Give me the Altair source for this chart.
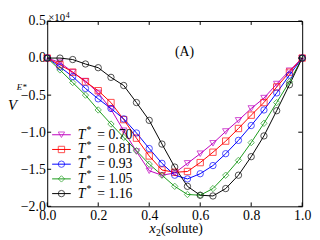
import altair as alt
import pandas as pd

# ---- data (values in units of 10^4) ----
x2 = [0.0, 0.05, 0.10, 0.15, 0.20, 0.25, 0.30, 0.35, 0.40, 0.45, 0.50,
      0.55, 0.60, 0.65, 0.70, 0.75, 0.80, 0.85, 0.90, 0.95, 1.0]
labels = ["0.70", "0.81", "0.93", "1.05", "1.16"]
v_070 = [0, -0.06, -0.19, -0.31, -0.47, -0.69, -0.98, -1.26, -1.52, -1.58, -1.55,
         -1.42, -1.29, -1.15, -0.99, -0.84, -0.68, -0.54, -0.35, -0.17, 0]
v_081 = [0, -0.09, -0.19, -0.32, -0.44, -0.60, -0.83, -1.08, -1.32, -1.51, -1.54,
         -1.53, -1.41, -1.27, -1.12, -0.95, -0.77, -0.60, -0.39, -0.19, 0]
v_093 = [0, -0.12, -0.25, -0.41, -0.55, -0.68, -0.82, -1.01, -1.22, -1.42, -1.58,
         -1.63, -1.56, -1.45, -1.29, -1.11, -0.91, -0.70, -0.47, -0.23, 0]
v_105 = [0, -0.16, -0.33, -0.50, -0.70, -0.89, -1.07, -1.25, -1.43, -1.58, -1.73,
         -1.84, -1.85, -1.76, -1.58, -1.38, -1.14, -0.88, -0.60, -0.32, 0]
v_116 = [0, 0, -0.02, -0.08, -0.13, -0.26, -0.37, -0.60, -0.84, -1.16, -1.47,
         -1.73, -1.85, -1.86, -1.76, -1.58, -1.33, -1.05, -0.71, -0.36, 0]
series = [v_070, v_081, v_093, v_105, v_116]
colors = ["#bf00bf", "#ff0000", "#0000ff", "#1a9a1a", "#000000"]
shapes = ["triangle-down", "square", "circle", "diamond", "circle"]
x_ticks = [0.0, 0.2, 0.4, 0.6, 0.8, 1.0]
y_ticks = [0.5, 0.0, -0.5, -1.0, -1.5, -2.0]

rows = []
for lab, vals in zip(labels, series):
    for xv, yv in zip(x2, vals):
        rows.append({"x": xv, "v": yv, "T": lab})
df = pd.DataFrame(rows)

TOP = 11
W, H = 260, 189
FONT = "Liberation Serif"
XMIN, XMAX, YMIN, YMAX = 0.0, 1.0, -2.0, 0.5
xs = alt.Scale(domain=[XMIN, XMAX], nice=False, zero=False)
ys = alt.Scale(domain=[YMIN, YMAX], nice=False, zero=False)

color = alt.Color("T:N", scale=alt.Scale(domain=labels, range=colors), legend=None)
shape = alt.Shape("T:N", scale=alt.Scale(domain=labels, range=shapes), legend=None)

ax_common = dict(format=".1f", ticks=False, domain=False, grid=False, labelFont=FONT,
                 labelFontSize=14, labelColor="black", title=None, labelOverlap=False,
                 labelFlush=False, labelPadding=2)
X_AX = alt.Axis(values=x_ticks, **ax_common)
Y_AX = alt.Axis(values=y_ticks, **ax_common)


def X(f):
    return alt.X(f, scale=xs, axis=X_AX)


def Y(f):
    return alt.Y(f, scale=ys, axis=Y_AX)


lines = alt.Chart(df).mark_line(strokeWidth=1).encode(x=X("x:Q"), y=Y("v:Q"), color=color)
points = alt.Chart(df).mark_point(filled=False, size=42, strokeWidth=1).encode(
    x=X("x:Q"), y=Y("v:Q"), color=color, shape=shape)

# inward ticks on all four sides
xt = pd.DataFrame({"t": x_ticks})
yt = pd.DataFrame({"t": y_ticks})
TL = 4
tick_layers = [
    alt.Chart(xt).mark_rule(color="black", strokeWidth=1).encode(
        x=X("t:Q"), y=alt.value(H), y2=alt.value(H - TL)),
    alt.Chart(xt).mark_rule(color="black", strokeWidth=1).encode(
        x=X("t:Q"), y=alt.value(0), y2=alt.value(TL)),
    alt.Chart(yt).mark_rule(color="black", strokeWidth=1).encode(
        y=Y("t:Q"), x=alt.value(0), x2=alt.value(TL)),
    alt.Chart(yt).mark_rule(color="black", strokeWidth=1).encode(
        y=Y("t:Q"), x=alt.value(W), x2=alt.value(W - TL)),
]

# legend (positions in plot pixels converted to data units)
def px_x(p):
    return XMIN + p / W * (XMAX - XMIN)


def px_y(p):
    return YMAX - p / H * (YMAX - YMIN)


leg_rows_px = [116, 131, 146, 161, 176]
leg = pd.DataFrame({
    "T": labels,
    "ly": [px_y(p) for p in leg_rows_px],
    "x0": px_x(5), "x1": px_x(24), "xm": px_x(14.5),
    "xt": px_x(31), "xs": px_x(40), "xe": px_x(51),
    "txt": ["= " + l for l in labels],
})
leg_line = alt.Chart(leg).mark_rule(strokeWidth=1).encode(
    x=X("x0:Q"), x2="x1:Q", y=Y("ly:Q"), color=color)
leg_pt = alt.Chart(leg).mark_point(filled=False, size=42, strokeWidth=1).encode(
    x=X("xm:Q"), y=Y("ly:Q"), color=color, shape=shape)
leg_T = alt.Chart(leg).mark_text(text="T", font=FONT, fontSize=14, fontStyle="italic",
                                 align="left", baseline="middle", color="black").encode(
    x=X("xt:Q"), y=Y("ly:Q"))
leg_star = alt.Chart(leg).mark_text(text="*", font=FONT, fontSize=10, align="left",
                                    baseline="middle", dy=-5, color="black").encode(
    x=X("xs:Q"), y=Y("ly:Q"))
leg_val = alt.Chart(leg).mark_text(font=FONT, fontSize=14, align="left",
                                   baseline="middle", color="black").encode(
    x=X("xe:Q"), y=Y("ly:Q"), text="txt:N")

one = pd.DataFrame({"a": [0]})


def txt(s, x, y, size=14, style="normal", align="left", baseline="alphabetic"):
    return alt.Chart(one).mark_text(text=s, font=FONT, fontSize=size, fontStyle=style,
                                    align=align, baseline=baseline, color="black").encode(
        x=alt.value(x), y=alt.value(y))


annos = [
    txt("×10", 1, -0.5, size=11),
    txt("4", 19, -3.5, size=8),
    txt("(A)", 140, 32, size=14, align="center", baseline="middle"),
    txt("V", -40, 91, size=15, style="italic"),
    txt("E*", -31, 70, size=9, style="italic"),
    txt("x", 104, 216, size=15, style="italic"),
    txt("2", 111, 219, size=10),
    txt("(solute)", 116, 216, size=14),
]

chart = alt.layer(lines, points, *tick_layers, leg_line, leg_pt, leg_T, leg_star, leg_val,
                  *annos).properties(
    width=W, height=H,
    padding={"left": 40, "top": TOP, "right": 10, "bottom": 29},
    autosize=alt.AutoSizeParams(type="none"),
    background="white",
).configure_view(stroke="black", strokeWidth=1)

chart.save("out.html", embed_options={"renderer": "svg", "actions": False})
